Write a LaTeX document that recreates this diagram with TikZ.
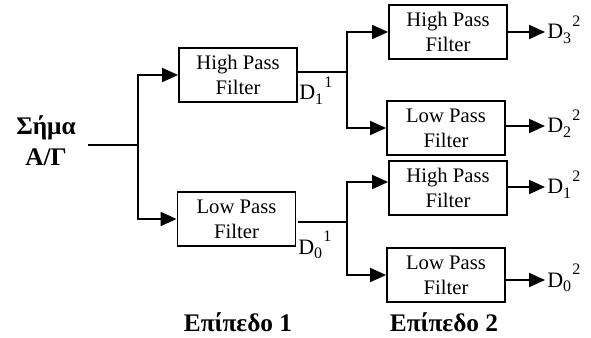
\documentclass[tikz,border=0pt]{standalone}
\usepackage{fontspec}
\setmainfont{Liberation Serif}
\usetikzlibrary{arrows.meta}
% detail coefficient label: D, subscript index, then raised level
\newcommand{\dlabel}[2]{D\raisebox{-0.2em}{\fontsize{12}{12}\selectfont #1}\hspace{0.06em}\raisebox{0.56em}{\fontsize{12}{12}\selectfont #2}}
\begin{document}
\begin{tikzpicture}[x=0.75pt,y=-0.75pt,
  filt/.style={draw, line width=1.4pt, minimum width=88.5pt, minimum height=40.5pt,
    inner sep=0pt, align=center, font=\fontsize{15.5}{18.75}\selectfont},
  wire/.style={line width=1.4pt},
  arr/.style={wire, -{Triangle[length=12pt,width=10.5pt]}},
  dl/.style={inner sep=0pt, anchor=base west, font=\fontsize{16.5}{18}\selectfont},
  ttl/.style={inner sep=0pt, anchor=base, font=\fontsize{19}{22}\selectfont\bfseries}]
\useasboundingbox (0,0) rectangle (591,338);

% filter banks
\node[filt] (hp1) at (238,75)  {High Pass\\Filter};
\node[filt] (lp1) at (236.5,219) {Low Pass\\Filter};
\node[filt] (hp2) at (448,32)  {High Pass\\Filter};
\node[filt] (lp2) at (446,128) {Low Pass\\Filter};
\node[filt] (hp3) at (448,188) {High Pass\\Filter};
\node[filt] (lp3) at (446,275) {Low Pass\\Filter};

% branching points and output ends
\coordinate (src) at (88,145);
\coordinate (s0) at (138,145);
\coordinate (s1) at (347,72);
\coordinate (s2) at (347,222);
\coordinate (t3) at (545,32);
\coordinate (t2) at (545,126);
\coordinate (t1) at (545,187);
\coordinate (t0) at (545,280);

% level 1
\draw[wire] (src) -- (s0);
\draw[arr] (s0) |- (hp1.west);
\draw[arr] (s0) |- (lp1.west);

% level 2
\draw[wire] (hp1.east |- s1) -- (s1);
\draw[arr] (s1) |- (hp2.west);
\draw[arr] (s1) |- (lp2.west);
\draw[wire] ([xshift=1.5pt]lp1.east |- s2) -- (s2);
\draw[arr] (s2) |- ([yshift=4.5pt]hp3.west);
\draw[arr] (s2) |- (lp3.west);

% outputs
\draw[arr] (hp2.east |- t3) -- (t3);
\draw[arr] (lp2.east |- t2) -- (t2);
\draw[arr] (hp3.east |- t1) -- (t1);
\draw[arr] (lp3.east |- t0) -- (t0);

% coefficient labels
\node[dl] (d32) at (547,39)  {\dlabel{3}{2}};
\node[dl] (d22) at (547,133) {\dlabel{2}{2}};
\node[dl] (d12) at (547,194) {\dlabel{1}{2}};
\node[dl] (d02) at (547,287) {\dlabel{0}{2}};
\node[dl] (d11) at (299,100) {\dlabel{1}{1}};
\node[dl] (d01) at (298,254) {\dlabel{0}{1}};

% titles
\node[ttl] (sig1) at (46,135) {Σήμα};
\node[ttl] (sig2) at (46,166) {Α/Γ};
\node[ttl] (lev1) at (238,331) {Επίπεδο 1};
\node[ttl] (lev2) at (444,331) {Επίπεδο 2};
\end{tikzpicture}
\end{document}
